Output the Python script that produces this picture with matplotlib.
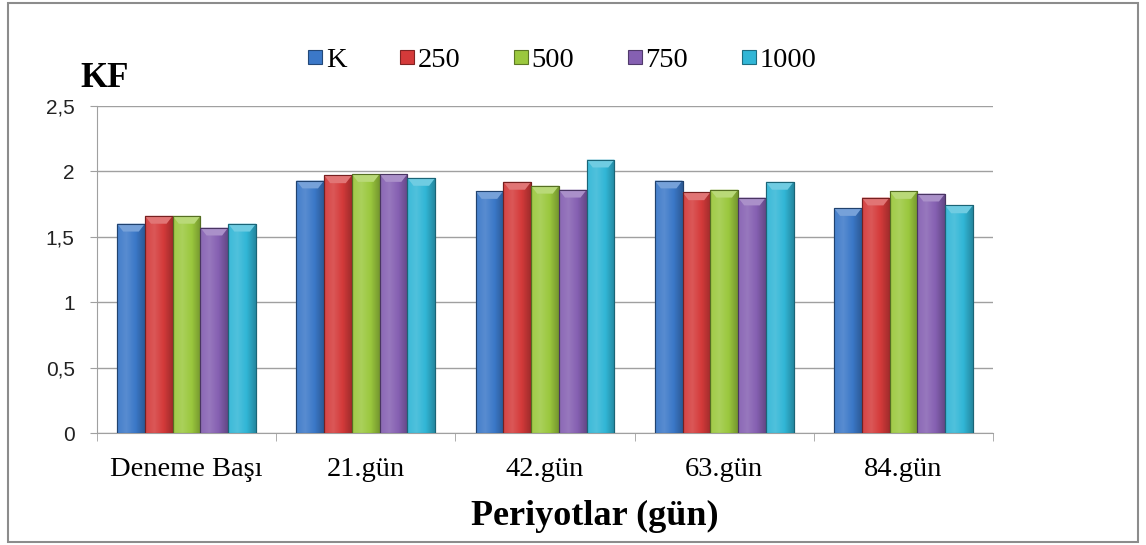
import matplotlib
matplotlib.use("Agg")
import matplotlib.pyplot as plt
from matplotlib.patches import Polygon, Rectangle
from matplotlib.lines import Line2D
from matplotlib.colors import to_rgb, LinearSegmentedColormap
import numpy as np

# KF values per period and dose group
periods = ['Deneme Başı', '21.gün', '42.gün', '63.gün', '84.gün']
groups = ['K', '250', '500', '750', '1000']
kf_K = [1.60, 1.93, 1.85, 1.93, 1.72]
kf_250 = [1.66, 1.97, 1.92, 1.84, 1.80]
kf_500 = [1.66, 1.98, 1.89, 1.86, 1.85]
kf_750 = [1.57, 1.98, 1.86, 1.80, 1.83]
kf_1000 = [1.60, 1.95, 2.09, 1.92, 1.74]
yticks = [0, 0.5, 1, 1.5, 2, 2.5]
ytick_labels = ['0', '0,5', '1', '1,5', '2', '2,5']

colors = ['#3b78c8', '#d43a3a', '#9bc83e', '#8560b2', '#31b6d6']
series = [kf_K, kf_250, kf_500, kf_750, kf_1000]


def shade(c, f):
    r, g, b = to_rgb(c)
    if f >= 0:
        return (r + (1 - r) * f, g + (1 - g) * f, b + (1 - b) * f)
    return (r * (1 + f), g * (1 + f), b * (1 + f))


fig = plt.figure(figsize=(11.46, 5.45), dpi=100)
ax = fig.add_axes([0.0846, 0.2055, 0.7819, 0.6000])

x = np.arange(len(periods))
bw = 0.155
grad = np.linspace(0, 1, 64).reshape(1, -1)

for i, (name, vals, col) in enumerate(zip(groups, series, colors)):
    offs = (i - 2) * bw
    bars = ax.bar(x + offs, vals, bw, color=col, edgecolor=shade(col, -0.45),
                  linewidth=0.8, zorder=3)
    cmap = LinearSegmentedColormap.from_list(
        'bar', [shade(col, 0.05), shade(col, 0.15), col, shade(col, -0.25)])
    for b, v in zip(bars, vals):
        x0 = b.get_x()
        x1 = x0 + b.get_width()
        # horizontal shading across the bar
        im = ax.imshow(grad, cmap=cmap, aspect='auto', extent=(x0, x1, 0, v),
                       zorder=3.1)
        im.set_clip_path(b)
        # bevelled top
        h = 0.06
        inset = b.get_width() * 0.22
        top = Polygon([(x0, v), (x1, v), (x1 - inset, v - h), (x0 + inset, v - h)],
                      closed=True, facecolor=shade(col, 0.3), edgecolor='none',
                      zorder=3.2)
        ax.add_patch(top)
        ax.add_patch(Rectangle((x0, 0), b.get_width(), v, fill=False,
                               edgecolor=shade(col, -0.45), linewidth=0.8, zorder=3.3))

ax.set_xlim(-0.5, len(periods) - 0.5)
ax.set_ylim(0, 2.5)
ax.set_yticks(yticks)
ax.set_yticklabels(ytick_labels, family='Liberation Sans', fontsize=15, color='#222222')
ax.set_xticks(x)
ax.set_xticklabels(periods, family='Liberation Serif', fontsize=20.5)
ax.set_xticks(np.arange(len(periods) + 1) - 0.5, minor=True)
ax.tick_params(axis='x', which='major', length=0, pad=17)
ax.tick_params(axis='x', which='minor', length=6, color='#a0a0a0')
ax.tick_params(axis='y', length=5, color='#a0a0a0', pad=11)

ax.grid(axis='y', color='#a0a0a0', linewidth=1.0, zorder=0)
for s in ['top', 'right']:
    ax.spines[s].set_visible(False)
for s in ['left', 'bottom']:
    ax.spines[s].set_color('#a0a0a0')

fig.text(0.519, 0.0367, 'Periyotlar (gün)', family='Liberation Serif',
         fontweight='bold', fontsize=26, ha='center', va='baseline')
fig.text(0.0698, 0.840, 'KF', family='Liberation Serif', fontweight='bold',
         fontsize=25, va='baseline')

# square legend keys
handles = [Line2D([], [], linestyle='none', marker='s', markersize=9.5,
                  markerfacecolor=c, markeredgecolor=shade(c, -0.4), markeredgewidth=0.8)
           for c in colors]
fig.legend(handles, groups, loc='center', bbox_to_anchor=(0.491, 0.890), ncol=5,
           frameon=False, prop={'family': 'Liberation Serif', 'size': 20.5},
           handlelength=0.45, handletextpad=0.15, columnspacing=1.9)

# outer frame
fig.patches.append(Rectangle((0.007, 0.006), 0.986, 0.988, transform=fig.transFigure,
                             fill=False, edgecolor='#8c8c8c', linewidth=1.5))

fig.savefig('out.png', dpi=100)
